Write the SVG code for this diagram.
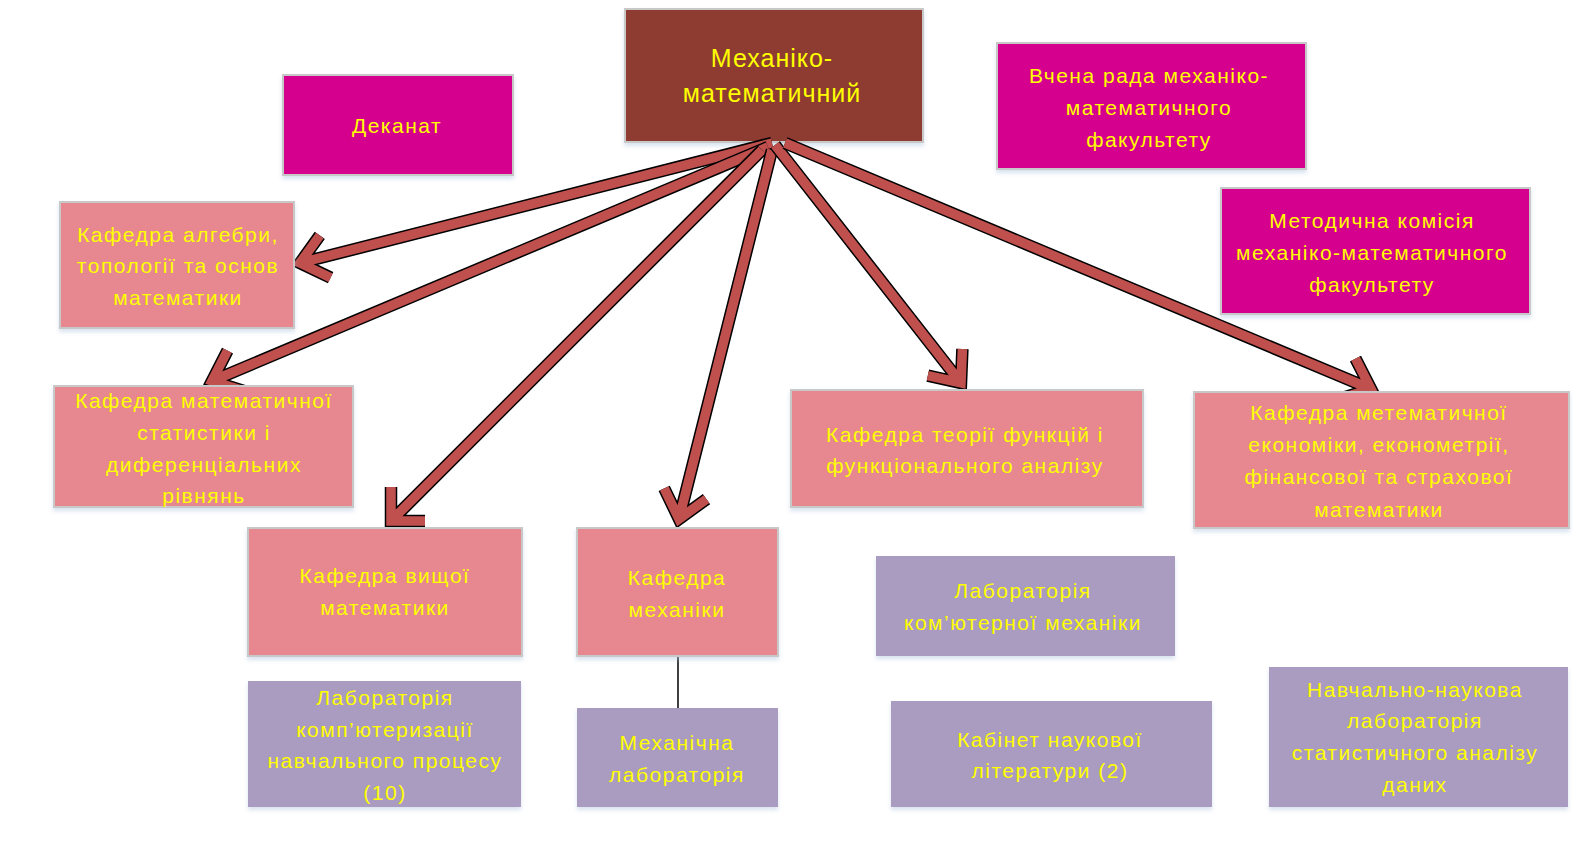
<svg xmlns="http://www.w3.org/2000/svg" xmlns:xlink="http://www.w3.org/1999/xlink" width="1573" height="842" viewBox="0 0 1573 842">
<style>
.box{stroke:#c8c8c8;stroke-width:2;filter:url(#sh)}
.main{fill:#8e3a33}
.mag{fill:#d5008e}
.pink{fill:#e78790}
.purp{fill:#aa9bc1;stroke:none}
.t{font-family:"Liberation Sans",Arial,sans-serif;font-size:21px;letter-spacing:1.5px;fill:#ffff00;text-anchor:middle}
.tb{font-size:25px;letter-spacing:1px}
.ao{fill:none;stroke:#000;stroke-width:12.5;stroke-linejoin:miter;stroke-miterlimit:10;stroke-linecap:butt}
.ai{fill:none;stroke:#c0504d;stroke-width:9.5;stroke-linejoin:miter;stroke-miterlimit:10;stroke-linecap:butt}
.ln{stroke:#000;stroke-width:1.5;fill:none}
</style>
<defs>
<filter id="sh" x="-5%" y="-5%" width="110%" height="125%">
<feDropShadow dx="0" dy="3" stdDeviation="2" flood-color="#a9bfdc" flood-opacity="0.45"/>
</filter>
<path id="a1" d="M772 143 L300 263 M330.6 277.7 L300 263 L319.8 235.4"/>
<path id="a2" d="M768 147 L212 381 M244.5 391.1 L212 381 L227.5 350.7"/>
<path id="a3" d="M762 150 L391 521 M391 487 L391 521 L425 521"/>
<path id="a4" d="M772 150 L679 519 M706.5 499.1 L679 519 L664.2 488.4"/>
<path id="a5" d="M775 145 L961 383 M962.4 349 L961 383 L927.8 375.7"/>
<path id="a6" d="M785 143 L1371 389 M1355.5 358.7 L1371 389 L1338.5 399.1"/>
</defs>
<rect width="1573" height="842" fill="#fff"/>
<g id="n-main"><rect class="box main" x="625" y="9" width="298" height="133"/><text class="t tb" x="772" y="67">Механіко-</text><text class="t tb" x="772" y="102">математичний</text></g>
<g id="connectors">
<use xlink:href="#a1" class="ao"/><use xlink:href="#a1" class="ai"/>
<use xlink:href="#a2" class="ao"/><use xlink:href="#a2" class="ai"/>
<use xlink:href="#a3" class="ao"/><use xlink:href="#a3" class="ai"/>
<use xlink:href="#a4" class="ao"/><use xlink:href="#a4" class="ai"/>
<use xlink:href="#a5" class="ao"/><use xlink:href="#a5" class="ai"/>
<use xlink:href="#a6" class="ao"/><use xlink:href="#a6" class="ai"/>
<line class="ln" x1="678" y1="656" x2="678" y2="708"/>
</g>
<g id="n-dekanat"><rect class="box mag" x="283" y="75" width="230" height="100"/><text class="t" x="397" y="133">Деканат</text></g>
<g id="n-vchena"><rect class="box mag" x="997" y="43" width="309" height="126"/><text class="t" x="1149" y="83">Вчена рада механіко-</text><text class="t" x="1149" y="115">математичного</text><text class="t" x="1149" y="147">факультету</text></g>
<g id="n-metod"><rect class="box mag" x="1221" y="188" width="309" height="126"/><text class="t" x="1372" y="228">Методична комісія</text><text class="t" x="1372" y="260">механіко-математичного</text><text class="t" x="1372" y="292">факультету</text></g>
<g id="n-algebra"><rect class="box pink" x="60" y="202" width="234" height="126"/><text class="t" x="178" y="242">Кафедра алгебри,</text><text class="t" x="178" y="273">топології та основ</text><text class="t" x="178" y="305">математики</text></g>
<g id="n-statist"><rect class="box pink" x="54" y="386" width="299" height="121"/><text class="t" x="204" y="408">Кафедра математичної</text><text class="t" x="204" y="440">статистики і</text><text class="t" x="204" y="472">диференціальних</text><text class="t" x="204" y="503">рівнянь</text></g>
<g id="n-teorii"><rect class="box pink" x="791" y="390" width="352" height="117"/><text class="t" x="965" y="442">Кафедра теорії функцій і</text><text class="t" x="965" y="473">функціонального аналізу</text></g>
<g id="n-ekonom"><rect class="box pink" x="1194" y="392" width="375" height="136"/><text class="t" x="1379" y="420">Кафедра метематичної</text><text class="t" x="1379" y="452">економіки, економетрії,</text><text class="t" x="1379" y="484">фінансової та страхової</text><text class="t" x="1379" y="517">математики</text></g>
<g id="n-vyshchoi"><rect class="box pink" x="248" y="528" width="274" height="128"/><text class="t" x="385" y="583">Кафедра вищої</text><text class="t" x="385" y="615">математики</text></g>
<g id="n-mekhaniky"><rect class="box pink" x="577" y="528" width="201" height="128"/><text class="t" x="677" y="585">Кафедра</text><text class="t" x="677" y="617">механіки</text></g>
<g id="n-lab-komp"><rect class="box purp" x="248" y="681" width="273" height="126"/><text class="t" x="385" y="705">Лабораторія</text><text class="t" x="385" y="737">комп’ютеризації</text><text class="t" x="385" y="768">навчального процесу</text><text class="t" x="385" y="800">(10)</text></g>
<g id="n-mekh-lab"><rect class="box purp" x="577" y="708" width="201" height="99"/><text class="t" x="677" y="750">Механічна</text><text class="t" x="677" y="782">лабораторія</text></g>
<g id="n-lab-kom"><rect class="box purp" x="876" y="556" width="299" height="100"/><text class="t" x="1023" y="598">Лабораторія</text><text class="t" x="1023" y="630">ком’ютерної механіки</text></g>
<g id="n-kabinet"><rect class="box purp" x="891" y="701" width="321" height="106"/><text class="t" x="1050" y="747">Кабінет наукової</text><text class="t" x="1050" y="778">літератури (2)</text></g>
<g id="n-navch"><rect class="box purp" x="1269" y="667" width="299" height="140"/><text class="t" x="1415" y="697">Навчально-наукова</text><text class="t" x="1415" y="728">лабораторія</text><text class="t" x="1415" y="760">статистичного аналізу</text><text class="t" x="1415" y="792">даних</text></g>
</svg>
